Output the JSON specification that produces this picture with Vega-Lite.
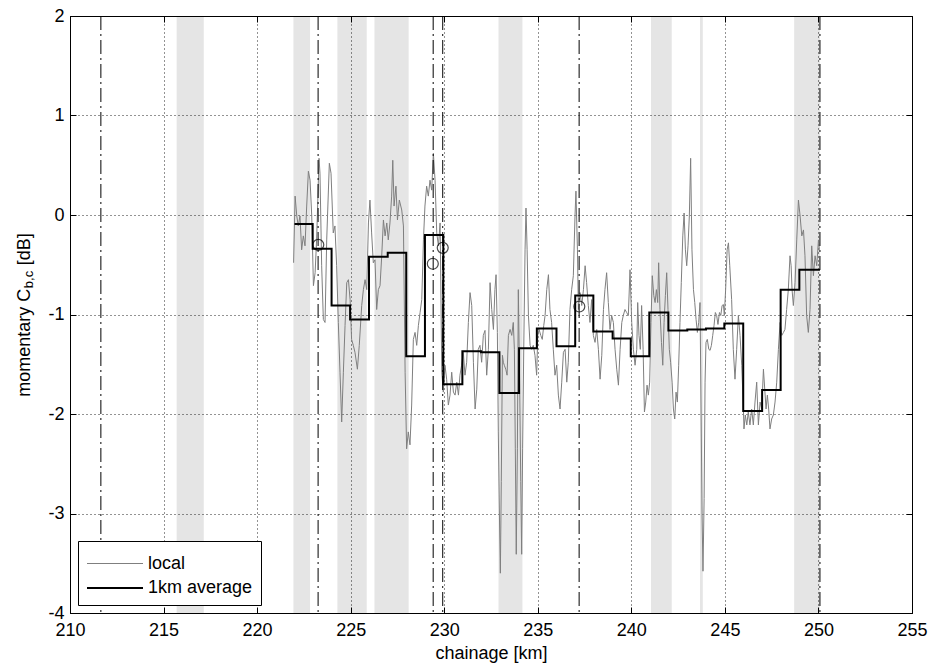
{
  "$schema": "https://vega.github.io/schema/vega-lite/v6.json",
  "width": 842,
  "height": 597,
  "autosize": "none",
  "padding": {"left": 70, "top": 16, "right": 17, "bottom": 53},
  "background": "white",
  "title": {"text": "b,c", "orient": "left", "anchor": "middle", "fontSize": 13, "fontWeight": "normal", "font": "Liberation Sans", "color": "#000", "dx": 35, "dy": 20, "offset": 0},
  "config": {
    "font": "Liberation Sans",
    "view": {"stroke": null},
    "axis": {"domainColor": "#000", "tickColor": "#000", "labelColor": "#000", "titleColor": "#000", "labelFontSize": 18, "titleFontSize": 18, "titleFontWeight": "normal", "labelFont": "Liberation Sans", "titleFont": "Liberation Sans"},
    "legend": {"orient": "bottom-left", "offset": 8, "strokeColor": "#000", "fillColor": "#fff", "padding": 8, "symbolType": "M-1,0H3", "symbolSize": 784, "labelFontSize": 18, "labelFont": "Liberation Sans", "labelColor": "#000", "rowPadding": 0, "labelOffset": 32, "cornerRadius": 0}
  },
  "datasets": {
    "bands": [
      {"x1": 215.7, "x2": 217.15}, {"x1": 221.94, "x2": 222.83}, {"x1": 224.29, "x2": 225.86}, {"x1": 226.27, "x2": 228.1},
      {"x1": 232.9, "x2": 234.18}, {"x1": 241.05, "x2": 242.16}, {"x1": 243.67, "x2": 243.82}, {"x1": 248.7, "x2": 250.08}
    ],
    "vlines": [{"km": 211.65}, {"km": 223.26}, {"km": 229.41}, {"km": 229.92}, {"km": 237.21}, {"km": 250.08}],
    "circles": [{"km": 223.27, "v": -0.3}, {"km": 229.39, "v": -0.49}, {"km": 229.92, "v": -0.33}, {"km": 237.22, "v": -0.92}],
    "avg": [
      {"km": 222.0, "v": -0.09}, {"km": 222.97, "v": -0.34}, {"km": 223.98, "v": -0.91}, {"km": 224.97, "v": -1.05},
      {"km": 225.98, "v": -0.42}, {"km": 226.98, "v": -0.38}, {"km": 227.97, "v": -1.42}, {"km": 228.97, "v": -0.2},
      {"km": 229.95, "v": -1.7}, {"km": 230.97, "v": -1.37}, {"km": 231.97, "v": -1.38}, {"km": 232.95, "v": -1.79},
      {"km": 234.0, "v": -1.34}, {"km": 234.95, "v": -1.14}, {"km": 236.0, "v": -1.32}, {"km": 237.0, "v": -0.81},
      {"km": 237.97, "v": -1.17}, {"km": 239.0, "v": -1.24}, {"km": 239.97, "v": -1.42}, {"km": 240.96, "v": -0.98},
      {"km": 241.98, "v": -1.16}, {"km": 242.99, "v": -1.15}, {"km": 243.99, "v": -1.14}, {"km": 244.97, "v": -1.09},
      {"km": 245.98, "v": -1.97}, {"km": 246.99, "v": -1.76}, {"km": 247.98, "v": -0.75}, {"km": 248.98, "v": -0.55},
      {"km": 250.08, "v": -0.55}
    ],
    "local": [
      {"km": 221.95, "v": -0.48}, {"km": 222.03, "v": 0.19}, {"km": 222.12, "v": -0.01}, {"km": 222.2, "v": -0.11},
      {"km": 222.29, "v": -0.01}, {"km": 222.38, "v": -0.35}, {"km": 222.47, "v": -0.21}, {"km": 222.56, "v": -0.31},
      {"km": 222.65, "v": 0.09}, {"km": 222.74, "v": 0.44}, {"km": 222.83, "v": 0.35}, {"km": 222.92, "v": -0.01},
      {"km": 223.01, "v": -0.71}, {"km": 223.1, "v": -0.58}, {"km": 223.18, "v": -0.25}, {"km": 223.31, "v": 0.57},
      {"km": 223.36, "v": 0.42}, {"km": 223.45, "v": -0.51}, {"km": 223.54, "v": -1.05}, {"km": 223.63, "v": -1.08},
      {"km": 223.72, "v": -0.25}, {"km": 223.86, "v": 0.52}, {"km": 223.95, "v": 0.42}, {"km": 224.07, "v": -0.18},
      {"km": 224.16, "v": -0.11}, {"km": 224.25, "v": -0.51}, {"km": 224.34, "v": -1.08}, {"km": 224.43, "v": -1.58},
      {"km": 224.52, "v": -2.08}, {"km": 224.61, "v": -1.58}, {"km": 224.7, "v": -1.11}, {"km": 224.79, "v": -0.68},
      {"km": 224.88, "v": -0.65}, {"km": 224.97, "v": -0.85}, {"km": 225.05, "v": -1.25}, {"km": 225.14, "v": -1.31},
      {"km": 225.23, "v": -1.38}, {"km": 225.36, "v": -1.55}, {"km": 225.46, "v": -1.31}, {"km": 225.59, "v": -0.91},
      {"km": 225.68, "v": -0.75}, {"km": 225.77, "v": -0.65}, {"km": 225.86, "v": -0.75}, {"km": 225.95, "v": -0.08},
      {"km": 226.03, "v": 0.15}, {"km": 226.12, "v": -0.18}, {"km": 226.21, "v": -0.48}, {"km": 226.3, "v": -0.45},
      {"km": 226.39, "v": -0.95}, {"km": 226.48, "v": -0.75}, {"km": 226.57, "v": -0.71}, {"km": 226.66, "v": -0.41},
      {"km": 226.75, "v": -0.05}, {"km": 226.84, "v": -0.21}, {"km": 226.93, "v": -0.08}, {"km": 227.01, "v": -0.25},
      {"km": 227.1, "v": -0.08}, {"km": 227.19, "v": 0.19}, {"km": 227.25, "v": 0.55}, {"km": 227.32, "v": 0.09},
      {"km": 227.42, "v": 0.29}, {"km": 227.5, "v": -0.05}, {"km": 227.6, "v": 0.15}, {"km": 227.73, "v": 0.05},
      {"km": 227.82, "v": -0.11}, {"km": 227.91, "v": -1.58}, {"km": 227.99, "v": -2.35}, {"km": 228.08, "v": -2.18},
      {"km": 228.17, "v": -2.31}, {"km": 228.26, "v": -1.91}, {"km": 228.35, "v": -1.25}, {"km": 228.44, "v": -1.18},
      {"km": 228.53, "v": -1.31}, {"km": 228.62, "v": -1.11}, {"km": 228.71, "v": -0.98}, {"km": 228.8, "v": -0.85},
      {"km": 228.89, "v": -0.25}, {"km": 228.97, "v": 0.09}, {"km": 229.06, "v": 0.29}, {"km": 229.15, "v": 0.19},
      {"km": 229.24, "v": 0.35}, {"km": 229.33, "v": 0.25}, {"km": 229.42, "v": 0.62}, {"km": 229.51, "v": 0.35},
      {"km": 229.6, "v": -0.18}, {"km": 229.69, "v": -0.31}, {"km": 229.78, "v": -0.08}, {"km": 229.87, "v": -1.58},
      {"km": 229.95, "v": -1.78}, {"km": 230.04, "v": -1.51}, {"km": 230.13, "v": -1.65}, {"km": 230.22, "v": -1.91},
      {"km": 230.31, "v": -1.81}, {"km": 230.4, "v": -1.58}, {"km": 230.49, "v": -1.78}, {"km": 230.58, "v": -1.81},
      {"km": 230.67, "v": -1.68}, {"km": 230.76, "v": -1.81}, {"km": 230.84, "v": -1.61}, {"km": 230.93, "v": -1.51},
      {"km": 231.02, "v": -1.38}, {"km": 231.11, "v": -1.61}, {"km": 231.2, "v": -1.48}, {"km": 231.29, "v": -1.08},
      {"km": 231.38, "v": -0.78}, {"km": 231.47, "v": -0.91}, {"km": 231.56, "v": -1.48}, {"km": 231.65, "v": -1.95},
      {"km": 231.74, "v": -1.75}, {"km": 231.82, "v": -1.35}, {"km": 231.91, "v": -1.31}, {"km": 232.0, "v": -1.48},
      {"km": 232.09, "v": -1.21}, {"km": 232.18, "v": -1.16}, {"km": 232.27, "v": -1.61}, {"km": 232.36, "v": -1.35},
      {"km": 232.45, "v": -0.68}, {"km": 232.54, "v": -0.95}, {"km": 232.63, "v": -1.15}, {"km": 232.71, "v": -0.75},
      {"km": 232.77, "v": -0.6}, {"km": 232.84, "v": -1.18}, {"km": 232.89, "v": -2.18}, {"km": 232.95, "v": -3.01},
      {"km": 233.0, "v": -3.6}, {"km": 233.05, "v": -2.68}, {"km": 233.11, "v": -1.41}, {"km": 233.16, "v": -1.48},
      {"km": 233.21, "v": -1.51}, {"km": 233.29, "v": -1.55}, {"km": 233.36, "v": -1.61}, {"km": 233.43, "v": -1.21},
      {"km": 233.52, "v": -1.15}, {"km": 233.61, "v": -1.21}, {"km": 233.69, "v": -1.08}, {"km": 233.75, "v": -1.35},
      {"km": 233.8, "v": -2.35}, {"km": 233.85, "v": -3.41}, {"km": 233.91, "v": -2.35}, {"km": 233.96, "v": -0.75},
      {"km": 234.03, "v": -1.68}, {"km": 234.09, "v": -2.68}, {"km": 234.14, "v": -3.41}, {"km": 234.19, "v": -2.35},
      {"km": 234.25, "v": -1.35}, {"km": 234.32, "v": -0.35}, {"km": 234.37, "v": 0.07}, {"km": 234.43, "v": -0.35},
      {"km": 234.5, "v": -1.01}, {"km": 234.59, "v": -1.31}, {"km": 234.67, "v": -1.35}, {"km": 234.76, "v": -1.31},
      {"km": 234.85, "v": -1.41}, {"km": 234.94, "v": -1.61}, {"km": 235.0, "v": -1.21}, {"km": 235.07, "v": -1.15},
      {"km": 235.16, "v": -1.21}, {"km": 235.24, "v": -1.25}, {"km": 235.32, "v": -1.11}, {"km": 235.39, "v": -1.01},
      {"km": 235.48, "v": -0.75}, {"km": 235.57, "v": -0.6}, {"km": 235.65, "v": -0.95}, {"km": 235.74, "v": -1.08},
      {"km": 235.83, "v": -1.35}, {"km": 235.92, "v": -1.61}, {"km": 236.01, "v": -1.51}, {"km": 236.1, "v": -1.81},
      {"km": 236.19, "v": -1.95}, {"km": 236.28, "v": -1.68}, {"km": 236.37, "v": -1.38}, {"km": 236.46, "v": -1.35},
      {"km": 236.55, "v": -1.68}, {"km": 236.63, "v": -1.48}, {"km": 236.72, "v": -0.95}, {"km": 236.81, "v": -0.75},
      {"km": 236.9, "v": -0.61}, {"km": 236.99, "v": -0.01}, {"km": 237.04, "v": 0.24}, {"km": 237.12, "v": -0.35},
      {"km": 237.17, "v": -0.95}, {"km": 237.26, "v": -0.78}, {"km": 237.35, "v": -0.91}, {"km": 237.44, "v": -0.75},
      {"km": 237.53, "v": -0.51}, {"km": 237.61, "v": -0.68}, {"km": 237.7, "v": -0.91}, {"km": 237.79, "v": -1.08},
      {"km": 237.88, "v": -0.85}, {"km": 237.97, "v": -1.21}, {"km": 238.06, "v": -1.28}, {"km": 238.15, "v": -1.15},
      {"km": 238.24, "v": -1.35}, {"km": 238.33, "v": -1.65}, {"km": 238.42, "v": -1.41}, {"km": 238.51, "v": -0.95},
      {"km": 238.59, "v": -0.75}, {"km": 238.68, "v": -0.58}, {"km": 238.77, "v": -0.88}, {"km": 238.86, "v": -1.15},
      {"km": 238.95, "v": -1.01}, {"km": 239.04, "v": -1.08}, {"km": 239.13, "v": -1.35}, {"km": 239.22, "v": -1.55},
      {"km": 239.31, "v": -1.71}, {"km": 239.4, "v": -1.35}, {"km": 239.49, "v": -1.08}, {"km": 239.57, "v": -1.01},
      {"km": 239.66, "v": -0.95}, {"km": 239.75, "v": -0.98}, {"km": 239.84, "v": -1.01}, {"km": 239.93, "v": -0.55},
      {"km": 240.02, "v": -1.08}, {"km": 240.11, "v": -1.35}, {"km": 240.2, "v": -1.51}, {"km": 240.29, "v": -1.35},
      {"km": 240.34, "v": -0.88}, {"km": 240.41, "v": -1.21}, {"km": 240.48, "v": -1.35}, {"km": 240.55, "v": -0.91},
      {"km": 240.63, "v": -1.35}, {"km": 240.7, "v": -1.98}, {"km": 240.77, "v": -1.88}, {"km": 240.84, "v": -1.71},
      {"km": 240.91, "v": -1.81}, {"km": 240.98, "v": -1.68}, {"km": 241.05, "v": -1.08}, {"km": 241.12, "v": -0.61},
      {"km": 241.2, "v": -0.81}, {"km": 241.27, "v": -0.88}, {"km": 241.34, "v": -0.75}, {"km": 241.41, "v": -0.88},
      {"km": 241.46, "v": -0.48}, {"km": 241.53, "v": -0.95}, {"km": 241.61, "v": -1.28}, {"km": 241.68, "v": -1.51},
      {"km": 241.75, "v": -1.08}, {"km": 241.82, "v": -0.81}, {"km": 241.89, "v": -0.58}, {"km": 241.96, "v": -0.95},
      {"km": 242.03, "v": -1.35}, {"km": 242.1, "v": -1.48}, {"km": 242.18, "v": -1.68}, {"km": 242.25, "v": -1.95},
      {"km": 242.32, "v": -2.05}, {"km": 242.39, "v": -1.78}, {"km": 242.46, "v": -1.88}, {"km": 242.53, "v": -1.51},
      {"km": 242.6, "v": -1.08}, {"km": 242.67, "v": -0.68}, {"km": 242.75, "v": -0.21}, {"km": 242.82, "v": 0.02},
      {"km": 242.89, "v": -0.35}, {"km": 242.96, "v": -0.51}, {"km": 243.03, "v": -0.31}, {"km": 243.1, "v": -0.01},
      {"km": 243.17, "v": 0.57}, {"km": 243.24, "v": -0.35}, {"km": 243.32, "v": -0.75}, {"km": 243.39, "v": -0.88},
      {"km": 243.46, "v": -1.05}, {"km": 243.53, "v": -1.18}, {"km": 243.6, "v": -1.08}, {"km": 243.67, "v": -0.88},
      {"km": 243.73, "v": -2.01}, {"km": 243.78, "v": -3.01}, {"km": 243.83, "v": -3.58}, {"km": 243.89, "v": -2.85},
      {"km": 243.94, "v": -1.68}, {"km": 243.99, "v": -1.28}, {"km": 244.06, "v": -1.25}, {"km": 244.14, "v": -1.35},
      {"km": 244.21, "v": -1.36}, {"km": 244.28, "v": -1.31}, {"km": 244.35, "v": -1.21}, {"km": 244.42, "v": -1.11},
      {"km": 244.49, "v": -0.98}, {"km": 244.56, "v": -1.01}, {"km": 244.63, "v": -1.1}, {"km": 244.71, "v": -0.98},
      {"km": 244.78, "v": -1.01}, {"km": 244.85, "v": -0.91}, {"km": 244.92, "v": -0.9}, {"km": 244.97, "v": -1.01},
      {"km": 245.04, "v": -0.75}, {"km": 245.12, "v": -0.35}, {"km": 245.19, "v": -0.28}, {"km": 245.26, "v": -0.51},
      {"km": 245.36, "v": -0.85}, {"km": 245.45, "v": -1.35}, {"km": 245.54, "v": -1.65}, {"km": 245.63, "v": -1.35},
      {"km": 245.72, "v": -1.01}, {"km": 245.81, "v": -1.21}, {"km": 245.9, "v": -1.51}, {"km": 245.99, "v": -1.95},
      {"km": 246.02, "v": -2.15}, {"km": 246.09, "v": -2.01}, {"km": 246.17, "v": -2.11}, {"km": 246.25, "v": -1.98},
      {"km": 246.34, "v": -2.11}, {"km": 246.43, "v": -1.95}, {"km": 246.52, "v": -2.11}, {"km": 246.61, "v": -1.88},
      {"km": 246.7, "v": -1.68}, {"km": 246.79, "v": -2.11}, {"km": 246.88, "v": -1.88}, {"km": 246.97, "v": -1.95},
      {"km": 247.06, "v": -1.55}, {"km": 247.13, "v": -1.75}, {"km": 247.2, "v": -1.95}, {"km": 247.27, "v": -1.81},
      {"km": 247.34, "v": -1.95}, {"km": 247.41, "v": -2.15}, {"km": 247.5, "v": -2.05}, {"km": 247.59, "v": -2.01},
      {"km": 247.68, "v": -1.88}, {"km": 247.77, "v": -1.68}, {"km": 247.86, "v": -1.35}, {"km": 247.95, "v": -1.08},
      {"km": 248.04, "v": -1.21}, {"km": 248.13, "v": -1.18}, {"km": 248.21, "v": -1.15}, {"km": 248.3, "v": -0.95},
      {"km": 248.39, "v": -0.75}, {"km": 248.48, "v": -0.41}, {"km": 248.54, "v": -0.51}, {"km": 248.59, "v": -0.75},
      {"km": 248.66, "v": -0.91}, {"km": 248.75, "v": -0.68}, {"km": 248.84, "v": -0.25}, {"km": 248.93, "v": 0.15},
      {"km": 249.02, "v": -0.01}, {"km": 249.11, "v": -0.21}, {"km": 249.2, "v": -0.15}, {"km": 249.28, "v": -0.41},
      {"km": 249.37, "v": -1.01}, {"km": 249.46, "v": -1.18}, {"km": 249.55, "v": -0.95}, {"km": 249.64, "v": -0.31},
      {"km": 249.73, "v": -0.61}, {"km": 249.82, "v": -0.41}, {"km": 249.91, "v": -0.51}, {"km": 250.0, "v": -0.25},
      {"km": 250.05, "v": -0.35}
    ]
  },
  "layer": [
    {
      "data": {"name": "bands"},
      "mark": {"type": "rect", "fill": "#000", "opacity": 0.1},
      "encoding": {
        "x": {"field": "x1", "type": "quantitative", "scale": {"domain": [210, 255], "nice": false, "zero": false}, "axis": null},
        "x2": {"field": "x2"}
      }
    },
    {
      "data": {"name": "local"},
      "mark": {"type": "line", "interpolate": "linear"},
      "encoding": {
        "x": {"field": "km", "type": "quantitative", "scale": {"domain": [210, 255], "nice": false, "zero": false},
          "axis": {"orient": "bottom", "values": [210, 215, 220, 225, 230, 235, 240, 245, 250, 255], "title": "chainage [km]", "grid": true, "gridDash": [1, 3], "gridColor": "#000", "gridOpacity": 0.85, "tickSize": -6, "labelPadding": 14, "labelFlush": false, "labelOverlap": false, "titlePadding": 5}},
        "y": {"field": "v", "type": "quantitative", "scale": {"domain": [-4, 2], "nice": false, "zero": false},
          "axis": {"orient": "left", "values": [-4, -3, -2, -1, 0, 1, 2], "labelExpr": "'' + datum.value", "title": "momentary C\u00a0\u00a0\u00a0\u00a0\u2009[dB]", "grid": true, "gridDash": [1, 3], "gridColor": "#000", "gridOpacity": 0.85, "tickSize": -6, "labelPadding": 12, "labelFlush": false, "titlePadding": 14}},
        "color": {"datum": "local", "type": "nominal", "scale": {"domain": ["local", "1km average"], "range": ["#7f7f7f", "#000000"]}, "legend": {"title": null}},
        "strokeWidth": {"datum": "local", "type": "ordinal", "scale": {"domain": ["local", "1km average"], "range": [1, 2]}, "legend": {"title": null}}
      }
    },
    {
      "data": {"name": "avg"},
      "mark": {"type": "line", "interpolate": "step-after"},
      "encoding": {
        "x": {"field": "km", "type": "quantitative", "scale": {"domain": [210, 255], "nice": false, "zero": false}, "axis": null},
        "y": {"field": "v", "type": "quantitative", "scale": {"domain": [-4, 2], "nice": false, "zero": false}, "axis": null},
        "color": {"datum": "1km average", "type": "nominal", "legend": {"title": null}},
        "strokeWidth": {"datum": "1km average", "type": "ordinal", "legend": {"title": null}}
      }
    },
    {
      "data": {"name": "circles"},
      "mark": {"type": "point", "shape": "circle", "filled": false, "stroke": "#000", "strokeWidth": 1.2, "size": 120},
      "encoding": {
        "x": {"field": "km", "type": "quantitative", "scale": {"domain": [210, 255], "nice": false, "zero": false}, "axis": null},
        "y": {"field": "v", "type": "quantitative", "scale": {"domain": [-4, 2], "nice": false, "zero": false},
          "axis": {"orient": "right", "values": [-4, -3, -2, -1, 0, 1, 2], "labels": false, "title": null, "grid": false, "tickSize": -6}}
      }
    },
    {
      "data": {"name": "vlines"},
      "mark": {"type": "rule", "stroke": "#000", "strokeWidth": 1, "strokeDash": [14, 4, 2, 4]},
      "encoding": {
        "x": {"field": "km", "type": "quantitative", "scale": {"domain": [210, 255], "nice": false, "zero": false},
          "axis": {"orient": "top", "values": [210, 215, 220, 225, 230, 235, 240, 245, 250, 255], "labels": false, "title": null, "grid": false, "tickSize": -6}}
      }
    }
  ],
  "resolve": {"axis": {"x": "independent", "y": "independent"}}
}
